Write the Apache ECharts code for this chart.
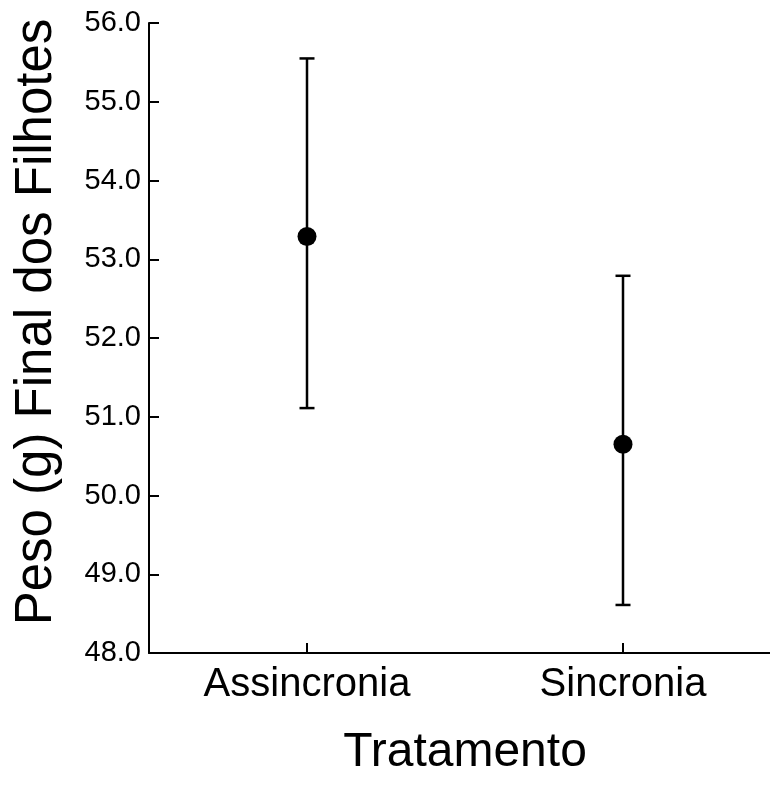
<!DOCTYPE html>
<html>
<head>
<meta charset="utf-8">
<script src="https://cdn.jsdelivr.net/npm/echarts@6/dist/echarts.min.js"></script>
<style>html,body{margin:0;padding:0;background:#fff}#c{width:770px;height:785px}</style>
</head>
<body>
<div id="c"></div>
<script>
var categories = ['Assincronia', 'Sincronia'];
var means = [53.29, 50.65];
var upper = [55.55, 52.79];
var lower = [51.11, 48.61];
var yTicks = [48, 49, 50, 51, 52, 53, 54, 55, 56];

var chart = echarts.init(document.getElementById('c'), null, {renderer: 'canvas'});
var font = '"Liberation Sans", Arial, Helvetica, sans-serif';
var errData = categories.map(function (c, i) { return [i, lower[i], upper[i]]; });

chart.setOption({
  animation: false,
  backgroundColor: '#fff',
  grid: {left: 149, top: 23, width: 632, height: 630, containLabel: false, outerBoundsMode: 'none'},
  xAxis: {
    type: 'category',
    data: categories,
    boundaryGap: true,
    name: 'Tratamento',
    nameLocation: 'middle',
    nameGap: 76,
    nameTextStyle: {fontFamily: font, fontSize: 48, color: '#000'},
    axisLine: {show: true, lineStyle: {color: '#000', width: 2}},
    axisTick: {show: true, inside: true, length: 10, alignWithLabel: true, lineStyle: {color: '#000', width: 2}},
    axisLabel: {show: true, fontFamily: font, fontSize: 40, color: '#000', margin: 12},
    splitLine: {show: false}
  },
  yAxis: {
    type: 'value',
    min: yTicks[0],
    max: yTicks[yTicks.length - 1],
    interval: 1,
    name: 'Peso (g) Final dos Filhotes',
    nameLocation: 'middle',
    nameGap: 87,
    nameTextStyle: {fontFamily: font, fontSize: 51, color: '#000', padding: [0, 0, 0, 32]},
    axisLine: {show: true, lineStyle: {color: '#000', width: 2}},
    axisTick: {show: true, inside: true, length: 10, lineStyle: {color: '#000', width: 2}},
    axisLabel: {fontFamily: font, fontSize: 29, color: '#000', margin: 8,
      formatter: function (v) { return v.toFixed(1); }},
    splitLine: {show: false}
  },
  series: [
    {
      type: 'custom',
      data: errData,
      encode: {x: 0, y: [1, 2]},
      z: 2,
      renderItem: function (params, api) {
        var x = api.value(0);
        var lo = api.coord([x, api.value(1)]);
        var hi = api.coord([x, api.value(2)]);
        var hw = 7.5;
        var st = {stroke: '#000', lineWidth: 2.5};
        return {
          type: 'group',
          children: [
            {type: 'line', shape: {x1: lo[0], y1: lo[1], x2: hi[0], y2: hi[1]}, style: st},
            {type: 'line', shape: {x1: hi[0] - hw, y1: hi[1], x2: hi[0] + hw, y2: hi[1]}, style: st},
            {type: 'line', shape: {x1: lo[0] - hw, y1: lo[1], x2: lo[0] + hw, y2: lo[1]}, style: st}
          ]
        };
      }
    },
    {
      type: 'scatter',
      data: means,
      symbol: 'circle',
      symbolSize: 19,
      z: 3,
      itemStyle: {color: '#000', opacity: 1}
    }
  ]
});
</script>
</body>
</html>
